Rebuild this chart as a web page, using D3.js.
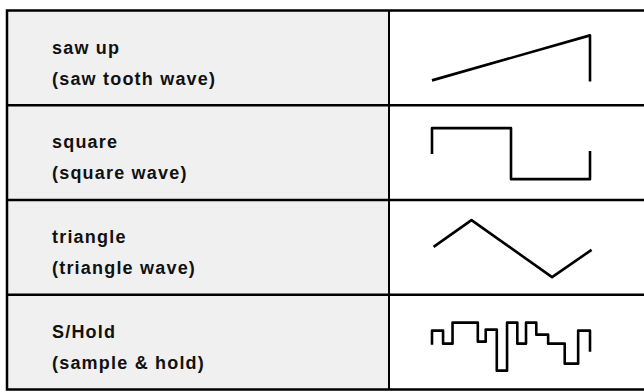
<!DOCTYPE html>
<html>
<head>
<meta charset="utf-8">
<script src="https://cdn.jsdelivr.net/npm/d3@7"></script>
<style>
  html, body { margin: 0; padding: 0; background: #fff; }
</style>
</head>
<body>
<script>
// Row labels (two lines each)
const names = ['saw up', 'square', 'triangle', 'S/Hold'];
const descriptions = ['(saw tooth wave)', '(square wave)', '(triangle wave)', '(sample & hold)'];

// Waveform shapes, x in 0..100, y in -1..1 (up is positive)
const sawUp = [[0, -0.9], [100, 0.9], [100, -0.94]];
const square = [[0, -0.05], [0, 0.98], [50, 0.98], [50, -1.06], [100, -1.06], [100, 0.07]];
const triangle = [[1, 0.02], [25, 1.09], [76, -1.19], [101, -0.1]];

// Sample & hold: step breaks and the level held between them
const shBreaks = [0, 7, 13, 29, 34, 41, 47.5, 54, 59.5, 66, 73.5, 84, 92.5, 100];
const shLevels = [0.46, -0.06, 0.78, 0.02, 0.5, -1.14, 0.78, -0.06, 0.78, 0.3, -0.06, -0.86, 0.46];
const shStart = -0.1;
const shEnd = -0.38;

// build the sample & hold path points from breaks and levels
const sampleHold = [[0, shStart]];
shLevels.forEach((lv, i) => {
  sampleHold.push([shBreaks[i], lv]);
  sampleHold.push([shBreaks[i + 1], lv]);
});
sampleHold.push([100, shEnd]);

const waves = [sawUp, square, triangle, sampleHold];

const W = 644, H = 392;
const tableLeft = 7, tableTop = 10.5, tableBottom = 389.5, divider = 389;

const svg = d3.select('body')
  .append('svg')
  .attr('width', W)
  .attr('height', H)
  .attr('viewBox', `0 0 ${W} ${H}`);

// rows band
const rowScale = d3.scaleBand()
  .domain(d3.range(names.length))
  .range([tableTop, tableBottom]);

// left (label) column background
svg.append('rect')
  .attr('x', tableLeft)
  .attr('y', tableTop)
  .attr('width', divider - tableLeft)
  .attr('height', tableBottom - tableTop)
  .attr('fill', '#f0f0f0');

// waveform x scale inside the right column
const x = d3.scaleLinear().domain([0, 100]).range([432, 590]);

const lineFunc = d3.line()
  .x(d => x(d[0]))
  .y(d => d[1]);

names.forEach((name, i) => {
  const y0 = rowScale(i);
  const mid = y0 + rowScale.bandwidth() / 2;
  const y = d3.scaleLinear().domain([-1, 1]).range([mid + 25, mid - 25]);

  // label lines
  svg.append('text')
    .attr('x', 52)
    .attr('y', y0 + 43)
    .attr('font-family', 'Liberation Sans, Arial, sans-serif')
    .attr('font-weight', 'bold')
    .attr('font-size', 18)
    .attr('letter-spacing', 1.2)
    .attr('fill', '#111')
    .text(name);

  svg.append('text')
    .attr('x', 52)
    .attr('y', y0 + 74)
    .attr('font-family', 'Liberation Sans, Arial, sans-serif')
    .attr('font-weight', 'bold')
    .attr('font-size', 18)
    .attr('letter-spacing', 1.2)
    .attr('fill', '#111')
    .text(descriptions[i]);

  // waveform
  svg.append('path')
    .attr('d', lineFunc(waves[i].map(p => [p[0], y(p[1])])))
    .attr('fill', 'none')
    .attr('stroke', '#000')
    .attr('stroke-width', 2.6)
    .attr('stroke-linejoin', 'round')
    .attr('stroke-linecap', 'butt');

  // row divider below each row except the last
  if (i < names.length - 1) {
    svg.append('line')
      .attr('x1', tableLeft)
      .attr('x2', W)
      .attr('y1', y0 + rowScale.bandwidth())
      .attr('y2', y0 + rowScale.bandwidth())
      .attr('stroke', '#000')
      .attr('stroke-width', 2.5);
  }
});

// column divider
svg.append('line')
  .attr('x1', divider)
  .attr('x2', divider)
  .attr('y1', tableTop)
  .attr('y2', tableBottom)
  .attr('stroke', '#000')
  .attr('stroke-width', 2);

// outer border (no right edge visible; it runs off the picture)
svg.append('path')
  .attr('d', `M${W + 2},${tableTop} H${tableLeft} V${tableBottom} H${W + 2}`)
  .attr('fill', 'none')
  .attr('stroke', '#000')
  .attr('stroke-width', 2.5);
</script>
</body>
</html>
